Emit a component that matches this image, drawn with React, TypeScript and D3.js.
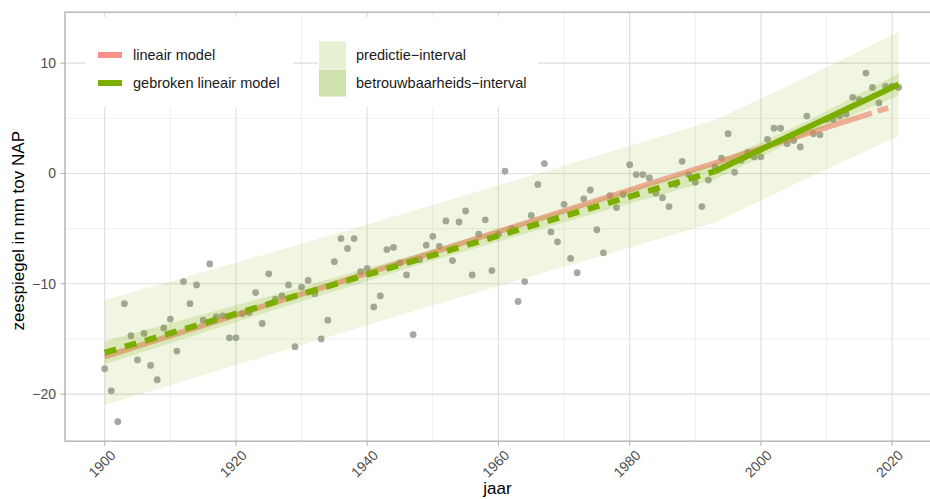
import React, { useEffect, useRef } from "react";
import * as d3 from "d3";

// jaarlijkse zeespiegel (1900 t/m 2021)
const firstYear = 1900;
const seaLevel = [
  -17.7, -19.7, -22.5, -11.8, -14.7, -16.9, -14.5, -17.4, -18.7, -14.0,
  -13.2, -16.1, -9.8, -11.8, -10.1, -13.3, -8.2, -13.0, -12.9, -14.9,
  -14.9, -12.7, -12.6, -10.8, -13.6, -9.1, -11.4, -11.1, -10.1, -15.7,
  -10.3, -9.7, -10.9, -15.0, -13.3, -8.0, -5.9, -6.8, -5.9, -8.9,
  -8.6, -12.1, -11.1, -6.9, -6.7, -8.1, -9.2, -14.6, -7.8, -6.5,
  -5.7, -6.6, -4.3, -7.9, -4.4, -3.4, -9.2, -5.5, -4.2, -8.8,
  -5.5, 0.2, -5.0, -11.6, -9.8, -3.8, -1.0, 0.9, -5.3, -6.2,
  -2.8, -7.7, -9.0, -2.3, -1.5, -5.1, -7.2, -2.0, -3.1, -1.9,
  0.8, -0.1, -0.1, -0.4, -1.8, -2.2, -3.0, -1.0, 1.1, -0.1,
  -0.8, -3.0, -0.6, 0.6, 1.4, 3.6, 0.1, 1.2, 1.9, 1.5,
  1.5, 3.1, 4.1, 4.1, 2.7, 3.0, 2.4, 5.2, 3.6, 3.5,
  4.9, 4.9, 5.2, 5.4, 6.9, 6.7, 9.1, 7.8, 6.4, 7.9,
  7.9, 7.8,
];

// lineair model
const linYears = [1900, 2019.4];
const linValues = [-16.6, 5.95];
const linGap = [2016.9, 2017.8];

// gebroken lineair model (knik in 1993)
const brokenYears = [1900, 1993, 2021];
const brokenValues = [-16.25, 0.2, 8.08];

// intervallen
const bandYears = [1900, 1925, 1950, 1975, 1993, 2007, 2021];
const predHi = [-11.5, -7.25, -2.85, 1.6, 4.85, 8.75, 12.85];
const predLo = [-21.0, -16.45, -11.95, -7.6, -4.45, -0.45, 3.4];
const confHi = [-15.2, -11.13, -6.9, -2.38, 0.95, 4.74, 9.08];
const confLo = [-17.3, -12.53, -7.9, -3.58, -0.55, 3.54, 7.08];

const xTicks = [1900, 1920, 1940, 1960, 1980, 2000, 2020];
const xMinor = [1910, 1930, 1950, 1970, 1990, 2010];
const yTicks = [-20, -10, 0, 10];
const yMinor = [-15, -5, 5];

const width = 930;
const height = 499;
const panel = { left: 65, right: 938.4, top: 12.2, bottom: 441.2 };
const font = "'Liberation Sans', Arial, sans-serif";
const green = "#7CAE00";
const salmon = "#F8766D";

const fmt = (v: number) => (v < 0 ? "\u2212" + Math.abs(v) : String(v));

export default function App() {
  const ref = useRef<SVGSVGElement>(null);

  useEffect(() => {
    const svg = d3.select(ref.current);
    svg.selectAll("*").remove();

    const x = d3.scaleLinear().domain([1893.95, 2027.05]).range([panel.left, panel.right]);
    const y = d3.scaleLinear().domain([-24.27, 14.62]).range([panel.bottom, panel.top]);

    svg.append("rect").attr("width", width).attr("height", height).attr("fill", "#fff");

    svg
      .append("defs")
      .append("clipPath")
      .attr("id", "panel")
      .append("rect")
      .attr("x", panel.left)
      .attr("y", panel.top)
      .attr("width", panel.right - panel.left)
      .attr("height", panel.bottom - panel.top);

    const g = svg.append("g").attr("clip-path", "url(#panel)");

    // grid
    g.selectAll(".xminor")
      .data(xMinor)
      .enter()
      .append("line")
      .attr("x1", d => x(d))
      .attr("x2", d => x(d))
      .attr("y1", panel.top)
      .attr("y2", panel.bottom)
      .attr("stroke", "#ebebeb")
      .attr("stroke-width", 0.8);
    g.selectAll(".yminor")
      .data(yMinor)
      .enter()
      .append("line")
      .attr("x1", panel.left)
      .attr("x2", panel.right)
      .attr("y1", d => y(d))
      .attr("y2", d => y(d))
      .attr("stroke", "#ebebeb")
      .attr("stroke-width", 0.8);
    g.selectAll(".xmajor")
      .data(xTicks)
      .enter()
      .append("line")
      .attr("x1", d => x(d))
      .attr("x2", d => x(d))
      .attr("y1", panel.top)
      .attr("y2", panel.bottom)
      .attr("stroke", "#dedede")
      .attr("stroke-width", 1.1);
    g.selectAll(".ymajor")
      .data(yTicks)
      .enter()
      .append("line")
      .attr("x1", panel.left)
      .attr("x2", panel.right)
      .attr("y1", d => y(d))
      .attr("y2", d => y(d))
      .attr("stroke", "#dedede")
      .attr("stroke-width", 1.1);

    // punten
    g.selectAll("circle")
      .data(seaLevel)
      .enter()
      .append("circle")
      .attr("cx", (d, i) => x(firstYear + i))
      .attr("cy", d => y(d))
      .attr("r", 3.4)
      .attr("fill", "#9c9e98")
      .attr("fill-opacity", 0.9);

    // lineair model (onder de banden)
    const linAt = (yr: number) =>
      linValues[0] + ((yr - linYears[0]) * (linValues[1] - linValues[0])) / (linYears[1] - linYears[0]);
    const linPieces = [
      [linYears[0], linGap[0]],
      [linGap[1], linYears[1]],
    ];
    const line = d3
      .line<number[]>()
      .x(d => x(d[0]))
      .y(d => y(d[1]));
    linPieces.forEach(p => {
      g.append("path")
        .attr("d", line(p.map(yr => [yr, linAt(yr)])))
        .attr("fill", "none")
        .attr("stroke", salmon)
        .attr("stroke-opacity", 0.6)
        .attr("stroke-width", 5.5);
    });

    // banden
    const area = d3
      .area<number>()
      .x((d, i) => x(bandYears[i]))
      .y0(d => y(d));
    g.append("path")
      .attr("d", area.y1((d, i) => y(predHi[i]))(predLo))
      .attr("fill", green)
      .attr("fill-opacity", 0.11);
    g.append("path")
      .attr("d", area.y1((d, i) => y(confHi[i]))(confLo))
      .attr("fill", green)
      .attr("fill-opacity", 0.18);

    // gebroken model
    const brokenPts = brokenYears.map((yr, i) => [yr, brokenValues[i]]);
    g.append("path")
      .attr("d", line(brokenPts.slice(0, 2)))
      .attr("fill", "none")
      .attr("stroke", green)
      .attr("stroke-width", 6)
      .attr("stroke-dasharray", "12 9");
    g.append("path")
      .attr("d", line(brokenPts.slice(1)))
      .attr("fill", "none")
      .attr("stroke", green)
      .attr("stroke-width", 6);

    // legenda
    const leg = svg.append("g").style("font", `14.5px ${font}`).attr("fill", "#1a1a1a");
    leg.append("rect").attr("x", 85).attr("y", 17).attr("width", 208).attr("height", 90).attr("fill", "#fff");
    leg.append("rect").attr("x", 318).attr("y", 17).attr("width", 220).attr("height", 90).attr("fill", "#fff");
    const lineKeys = [
      { label: "lineair model", color: salmon, opacity: 0.8 },
      { label: "gebroken lineair model", color: green, opacity: 1 },
    ];
    lineKeys.forEach((k, i) => {
      const ky = 55 + i * 28;
      leg.append("line")
        .attr("x1", 98)
        .attr("x2", 122)
        .attr("y1", ky)
        .attr("y2", ky)
        .attr("stroke", k.color)
        .attr("stroke-opacity", k.opacity)
        .attr("stroke-width", 6);
      leg.append("text").attr("x", 133).attr("y", ky).attr("dy", "0.35em").text(k.label);
    });
    const fillKeys = [
      { label: "predictie\u2212interval", color: "#e6f0d3" },
      { label: "betrouwbaarheids\u2212interval", color: "#d1e3ac" },
    ];
    fillKeys.forEach((k, i) => {
      const ky = 55 + i * 28;
      leg.append("rect")
        .attr("x", 319)
        .attr("y", ky - 13.5)
        .attr("width", 27)
        .attr("height", 27)
        .attr("fill", k.color);
      leg.append("text").attr("x", 356).attr("y", ky).attr("dy", "0.35em").text(k.label);
    });

    // rand
    svg.append("rect")
      .attr("x", panel.left)
      .attr("y", panel.top)
      .attr("width", panel.right - panel.left)
      .attr("height", panel.bottom - panel.top)
      .attr("fill", "none")
      .attr("stroke", "#b3b3b3")
      .attr("stroke-width", 1.4);

    // assen
    const ax = svg.append("g").style("font", `14px ${font}`).attr("fill", "#4d4d4d");
    xTicks.forEach(t => {
      ax.append("line")
        .attr("x1", x(t))
        .attr("x2", x(t))
        .attr("y1", panel.bottom)
        .attr("y2", panel.bottom + 4.5)
        .attr("stroke", "#b3b3b3")
        .attr("stroke-width", 1.1);
      ax.append("text")
        .attr("text-anchor", "end")
        .attr("transform", `translate(${x(t) + 5},${panel.bottom + 8}) rotate(-45)`)
        .attr("dy", "0.7em")
        .text(String(t));
    });
    yTicks.forEach(t => {
      ax.append("line")
        .attr("x1", panel.left - 4.5)
        .attr("x2", panel.left)
        .attr("y1", y(t))
        .attr("y2", y(t))
        .attr("stroke", "#b3b3b3")
        .attr("stroke-width", 1.1);
      ax.append("text")
        .attr("text-anchor", "end")
        .attr("x", panel.left - 9)
        .attr("y", y(t))
        .attr("dy", "0.35em")
        .text(fmt(t));
    });

    svg.append("text")
      .style("font", `17px ${font}`)
      .attr("fill", "#000")
      .attr("text-anchor", "middle")
      .attr("x", (panel.left + 930) / 2)
      .attr("y", 494)
      .text("jaar");
    svg.append("text")
      .style("font", `17px ${font}`)
      .attr("fill", "#000")
      .attr("text-anchor", "middle")
      .attr("transform", `translate(24,${(panel.top + panel.bottom) / 2 + 4}) rotate(-90)`)
      .text("zeespiegel in mm tov NAP");
  }, []);

  return (
    <svg
      ref={ref}
      width={width}
      height={height}
      style={{ position: "absolute", left: 0, top: 0, display: "block" }}
    />
  );
}
